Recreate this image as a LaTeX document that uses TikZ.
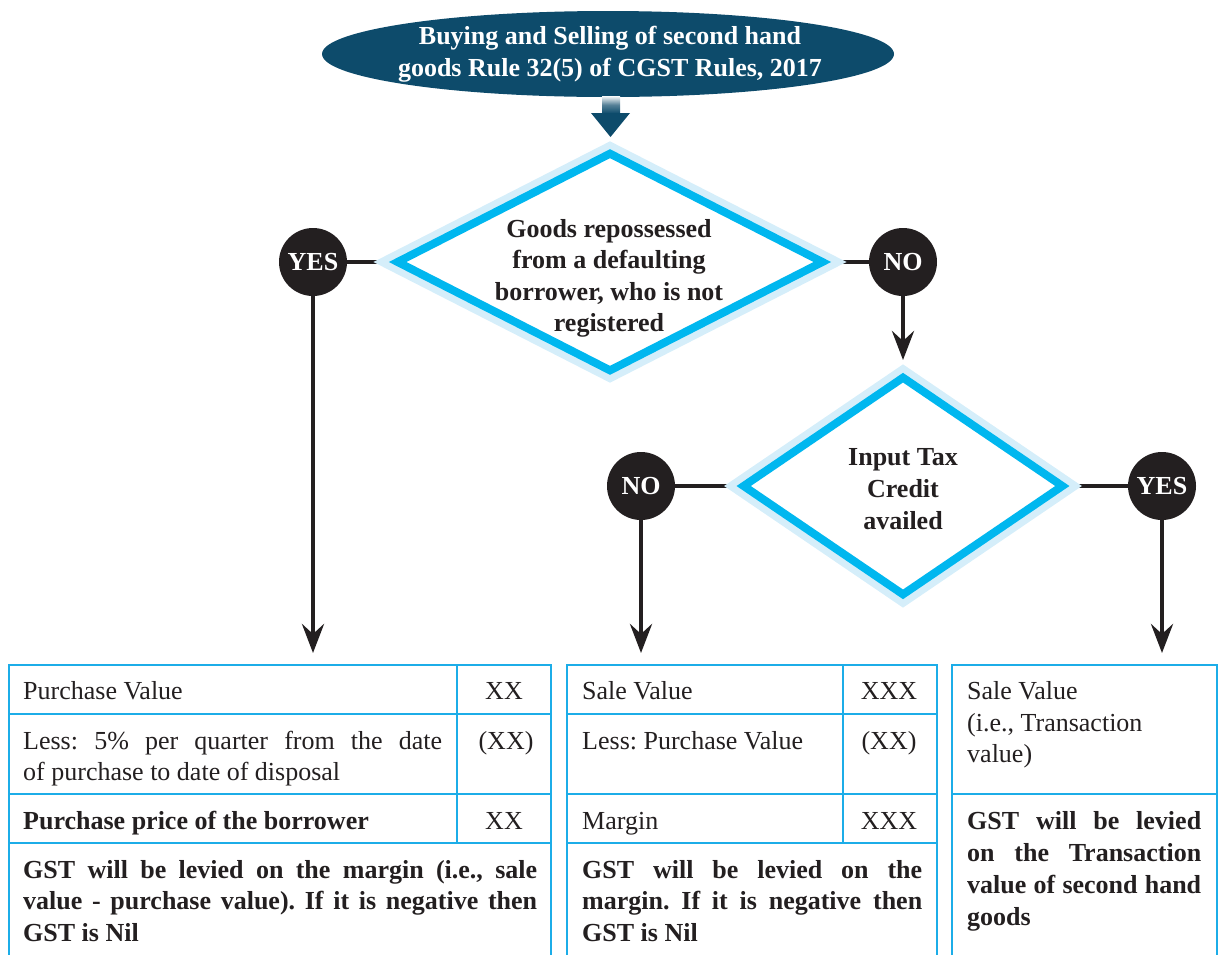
\documentclass[tikz,border=0pt]{standalone}
\usepackage{fontspec}
\setmainfont{Liberation Serif}
\usetikzlibrary{shapes.geometric,arrows.meta,backgrounds}
\definecolor{navy}{HTML}{0D4B6B}
\definecolor{dcyan}{HTML}{00B7EF}
\definecolor{halo}{HTML}{D5EEFA}
\definecolor{tblue}{HTML}{1CADE8}
\definecolor{ink}{HTML}{231F20}
\newcommand{\jline}[2]{\makebox[#1][s]{#2}}
\frenchspacing
\begin{document}
\begin{tikzpicture}[x=1pt,y=-1pt,
  rf/.style={font=\fontsize{26}{31.5}\selectfont},
  bf/.style={font=\fontsize{26}{31.5}\selectfont\bfseries},
  txt/.style={rf, inner sep=0pt, anchor=base west, text=ink},
  btxt/.style={bf, inner sep=0pt, anchor=base west, text=ink},
  ctxt/.style={rf, inner sep=0pt, anchor=base, text=ink},
  cbtxt/.style={bf, inner sep=0pt, anchor=base, text=ink},
  circ/.style={circle, fill=ink, minimum size=68pt, inner sep=0pt, text=white, bf},
  dia/.style={diamond, draw=dcyan, line width=8pt, fill=white, inner sep=0pt,
    preaction={draw=halo, line width=22pt}},
  cell/.style={draw=tblue, line width=2.8pt, inner sep=0pt, outer sep=0pt, anchor=north west},
  conn/.style={draw=ink, line width=4.5pt},
  arr/.style={conn, -{Stealth[length=29pt, width=22pt, inset=10pt]}, shorten >=12pt}
]
\useasboundingbox (0,0) rectangle (1218,954);
\clip (0,0) rectangle (1218,954);

% title
\node[ellipse, fill=navy, minimum width=572pt, minimum height=86pt, inner sep=0pt] (title) at (608,54) {};
\node[cbtxt, text=white] (title1) at (610,44.5) {Buying and Selling of second hand};
\node[cbtxt, text=white] (title2) at (610,76.5) {goods Rule 32(5) of CGST Rules, 2017};

% block arrow
\shade[top color=navy!3, bottom color=navy, middle color=navy!70] (602,96) rectangle (620,113.5);
\fill[navy] (591,113) -- (630,113) -- (610.5,137) -- cycle;

% diamonds
\node[dia, minimum width=428pt, minimum height=220pt] (d1) at (610,262) {};
\node[cbtxt] (d1a) at (609,237) {Goods repossessed};
\node[cbtxt] (d1b) at (609,268.5) {from a defaulting};
\node[cbtxt] (d1c) at (609,300.5) {borrower, who is not};
\node[cbtxt] (d1d) at (609,331.5) {registered};

\node[dia, minimum width=322pt, minimum height=220pt] (d2) at (903,486) {};
\node[cbtxt] (d2a) at (903,465) {Input Tax};
\node[cbtxt] (d2b) at (903,497) {Credit};
\node[cbtxt] (d2c) at (903,529) {availed};

% circles
\node[circ] (yes1) at (313,262) {YES};
\node[circ] (no1) at (903,262) {NO};
\node[circ] (no2) at (641,486) {NO};
\node[circ] (yes2) at (1162,486) {YES};

% tables
\node[cell, minimum width=448pt, minimum height=49pt] (t1a) at (9,665) {};
\node[cell, minimum width=94pt, minimum height=49pt] (t1b) at (457,665) {};
\node[cell, minimum width=448pt, minimum height=80pt] (t1c) at (9,714) {};
\node[cell, minimum width=94pt, minimum height=80pt] (t1d) at (457,714) {};
\node[cell, minimum width=448pt, minimum height=49pt] (t1e) at (9,794) {};
\node[cell, minimum width=94pt, minimum height=49pt] (t1f) at (457,794) {};
\node[cell, minimum width=542pt, minimum height=130pt] (t1g) at (9,843) {};

\node[cell, minimum width=276pt, minimum height=49pt] (t2a) at (567,665) {};
\node[cell, minimum width=94pt, minimum height=49pt] (t2b) at (843,665) {};
\node[cell, minimum width=276pt, minimum height=80pt] (t2c) at (567,714) {};
\node[cell, minimum width=94pt, minimum height=80pt] (t2d) at (843,714) {};
\node[cell, minimum width=276pt, minimum height=49pt] (t2e) at (567,794) {};
\node[cell, minimum width=94pt, minimum height=49pt] (t2f) at (843,794) {};
\node[cell, minimum width=370pt, minimum height=130pt] (t2g) at (567,843) {};

\node[cell, minimum width=265pt, minimum height=129pt] (t3a) at (952,665) {};
\node[cell, minimum width=265pt, minimum height=179pt] (t3b) at (952,794) {};

% table 1 text
\node[txt] (p1) at (23,699) {Purchase Value};
\node[ctxt] (p1v) at (504,699) {XX};
\node[txt] (p2) at (23,749) {\jline{419pt}{Less: 5\% per quarter from the date}};
\node[txt] (p2b) at (23,780) {of purchase to date of disposal};
\node[ctxt] (p2v) at (506,749) {(XX)};
\node[btxt] (p3) at (23,829) {Purchase price of the borrower};
\node[ctxt] (p3v) at (504,829) {XX};
\node[btxt] (p4a) at (23,878) {\jline{514pt}{GST will be levied on the margin (i.e., sale}};
\node[btxt] (p4b) at (23,909) {\jline{514pt}{value - purchase value). If it is negative then}};
\node[btxt] (p4c) at (23,941) {GST is Nil};

% table 2 text
\node[txt] (q1) at (582,699) {Sale Value};
\node[ctxt] (q1v) at (889,699) {XXX};
\node[txt] (q2) at (582,749) {Less: Purchase Value};
\node[ctxt] (q2v) at (889,749) {(XX)};
\node[txt] (q3) at (582,829) {Margin};
\node[ctxt] (q3v) at (889,829) {XXX};
\node[btxt] (q4a) at (582,878) {\jline{340pt}{GST will be levied on the}};
\node[btxt] (q4b) at (582,909) {\jline{340pt}{margin. If it is negative then}};
\node[btxt] (q4c) at (582,941) {GST is Nil};

% table 3 text
\node[txt] (r1) at (967,699) {Sale Value};
\node[txt] (r2) at (967,731) {(i.e., Transaction};
\node[txt] (r3) at (967,762) {value)};
\node[btxt] (r4a) at (967,829) {\jline{234pt}{GST will be levied}};
\node[btxt] (r4b) at (967,861) {\jline{234pt}{on the Transaction}};
\node[btxt] (r4c) at (967,893) {\jline{234pt}{value of second hand}};
\node[btxt] (r4d) at (967,925) {goods};

% connectors
\begin{scope}[on background layer]
\draw[conn] (d1.west) -- (yes1);
\draw[conn] (d1.east) -- (no1);
\draw[arr] (no1) -- (d2.north);
\draw[conn] (d2.west) -- (no2);
\draw[conn] (d2.east) -- (yes2);
\draw[arr] (yes1) -- (yes1 |- t1a.north);
\draw[arr] (no2) -- (no2 |- t2a.north);
\draw[arr] (yes2) -- (yes2 |- t3a.north);
\end{scope}
\end{tikzpicture}
\end{document}
